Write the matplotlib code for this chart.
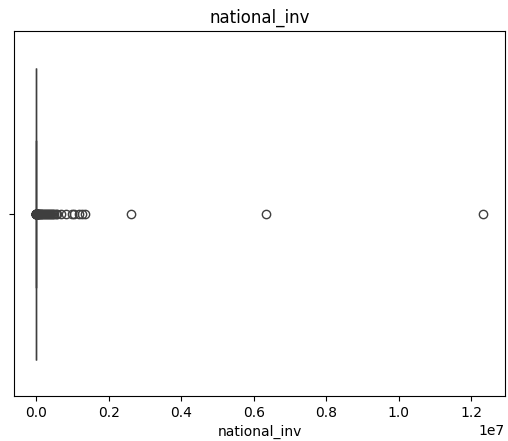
import numpy as np
import matplotlib
matplotlib.use("Agg")
import matplotlib.pyplot as plt
import seaborn as sns

# bulk of the distribution (small inventory values) and how often each occurs
core_values = [-25, 0, 1, 2, 3, 4, 5, 6, 8, 10, 12, 15, 18, 20, 25, 30, 40, 50,
               60, 70, 80, 90, 100, 120, 150, 180, 200]
core_counts = [5, 60, 30, 30, 28, 26, 25, 24, 22, 20, 18, 17, 16, 15, 14, 13, 12,
               11, 10, 9, 8, 7, 6, 5, 4, 3, 2]
# outliers
outliers = [600, 800, 1000, 1500, 2000, 3000, 4000, 5000, 7000, 10000, 14000,
            20000, 27000, 35000, 45000, 55000, 70000, 85000, 100000, 120000,
            140000, 160000, 180000, 200000, 230000, 260000, 290000, 320000,
            350000, 380000, 410000, 440000, 470000, 500000, 530000, 560000,
            670000, 830000, 980000, 1050000, 1180000, 1250000, 1350000,
            2620000, 6340000, 12310000]

national_inv = np.concatenate([np.repeat(core_values, core_counts),
                               np.array(outliers)]).astype(float)

fig = plt.figure(figsize=(5.08, 4.41), dpi=100)
ax = fig.add_axes([0.0276, 0.102, 0.9665, 0.8277])
sns.boxplot(x=national_inv, ax=ax)
ax.set_title('national_inv')
ax.set_xlabel('national_inv')
plt.savefig('out.png', dpi=100)
